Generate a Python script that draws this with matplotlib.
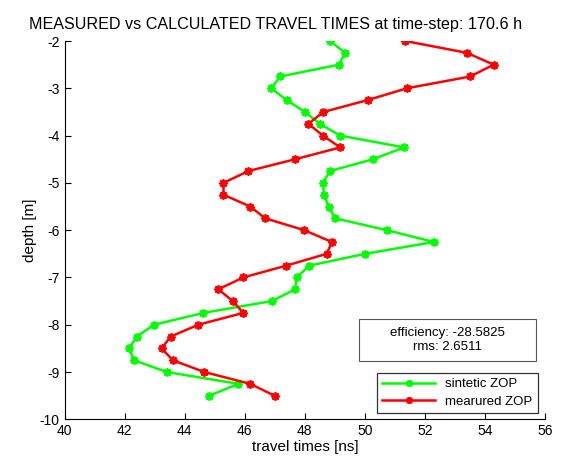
import numpy as np
import matplotlib
matplotlib.use('Agg')
import matplotlib.pyplot as plt

plt.rcParams['font.family'] = ['Liberation Sans', 'DejaVu Sans']
plt.rcParams['axes.unicode_minus'] = False

# depth of each receiver [m]
depth = [-2.0, -2.25, -2.5, -2.75, -3.0, -3.25, -3.5, -3.75, -4.0, -4.25,
         -4.5, -4.75, -5.0, -5.25, -5.5, -5.75, -6.0, -6.25, -6.5, -6.75,
         -7.0, -7.25, -7.5, -7.75, -8.0, -8.25, -8.5, -8.75, -9.0, -9.25, -9.5]

# travel times [ns]
sintetic = [48.84, 49.34, 49.14, 47.18, 46.88, 47.4, 48.0, 48.5, 49.18, 51.31,
            50.27, 48.84, 48.6, 48.64, 48.79, 49.01, 50.73, 52.3, 50.01, 48.15,
            47.73, 47.68, 46.9, 44.62, 42.98, 42.4, 42.15, 42.31, 43.4, 45.79, 44.82]
measured = [51.34, 53.4, 54.29, 53.51, 51.4, 50.09, 48.62, 48.12, 48.6, 49.18,
            47.68, 46.12, 45.29, 45.29, 46.18, 46.68, 47.98, 48.9, 48.73, 47.38,
            45.95, 45.12, 45.6, 45.95, 44.45, 43.53, 43.23, 43.6, 44.65, 46.18, 46.99]

efficiency = -28.5825
rms = 2.6511
time_step = 170.6

fig = plt.figure(figsize=(5.79, 4.66), dpi=100)
ax = fig.add_axes([0.1117, 0.1002, 0.8296, 0.8118])

star = (8, 2, 0)
ax.plot(sintetic, depth, '-', color='#00ff00', lw=1.8, marker=star,
        markersize=6, mew=1.3, label='sintetic ZOP')
ax.plot(measured, depth, '-', color='#ff0000', lw=1.8, marker=star,
        markersize=6, mew=1.3, label='mearured ZOP')

ax.set_xlim(40, 56)
ax.set_ylim(-10, -2)
ax.set_xticks(np.arange(40, 57, 2))
ax.set_yticks(np.arange(-10, -1, 1))
ax.spines['top'].set_visible(False)
ax.spines['right'].set_visible(False)
ax.tick_params(direction='in', labelsize=10, length=4)

ax.set_xlabel('travel times [ns]', fontsize=11, labelpad=1)
ax.set_ylabel('depth [m]', fontsize=11, labelpad=2)
fig.text(276 / 579, 1 - 25 / 466,
         'MEASURED vs CALCULATED TRAVEL TIMES at time-step: %.1f h' % time_step,
         ha='center', va='center', fontsize=11.6)

fig.text(447.5 / 579, 1 - 340 / 466, 'efficiency: %.4f\nrms: %.4f' % (efficiency, rms),
         ha='center', va='center', fontsize=9.5, linespacing=1.3)
box = plt.Rectangle((359 / 579, 1 - 361 / 466), (536 - 359) / 579, (361 - 319) / 466,
                    transform=fig.transFigure, fill=False, ec='#555555', lw=0.8)
fig.patches.append(box)

leg = ax.legend(loc='lower right', bbox_to_anchor=(538 / 579, 1 - 413 / 466),
                bbox_transform=fig.transFigure, fontsize=9.5, frameon=True,
                fancybox=False, borderpad=0.4, handlelength=4.0, labelspacing=0.4,
                borderaxespad=0)
leg.get_frame().set_edgecolor('black')
leg.get_frame().set_linewidth(0.9)
for h in leg.legend_handles:
    h.set_markersize(5)

fig.savefig('out.png', dpi=100)
